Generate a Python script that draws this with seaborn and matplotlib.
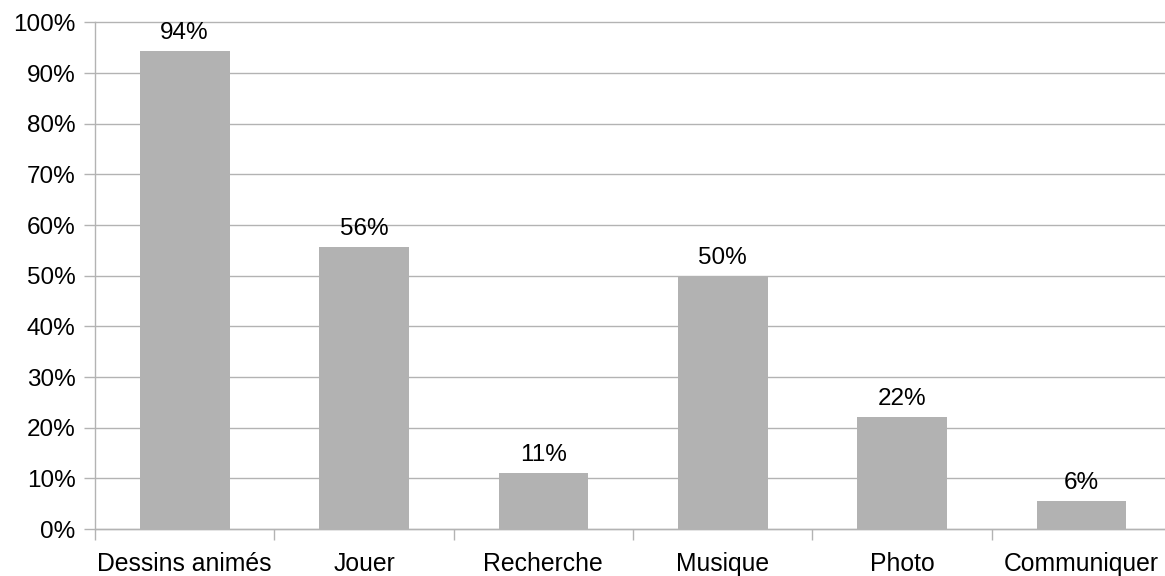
import numpy as np
import pandas as pd
import seaborn as sns
from matplotlib import pyplot as plt
from matplotlib.ticker import FixedLocator

categories = ['Dessins animés', 'Jouer', 'Recherche', 'Musique', 'Photo', 'Communiquer']
values = [94.4, 55.6, 11.1, 50.0, 22.2, 5.6]
labels = ['94%', '56%', '11%', '50%', '22%', '6%']
yticks = list(range(0, 101, 10))

df = pd.DataFrame({'cat': categories, 'val': values})

sns.set_style('white')
plt.rcParams['font.family'] = ['Liberation Sans', 'DejaVu Sans']
plt.rcParams['text.color'] = 'black'
plt.rcParams['xtick.color'] = 'black'
plt.rcParams['ytick.color'] = 'black'

fig = plt.figure(figsize=(11.65, 5.76), dpi=100)
ax = fig.add_axes([95 / 1165, 47 / 576, 1076 / 1165, 506.5 / 576])

sns.barplot(data=df, x='cat', y='val', color='#b2b2b2', saturation=1,
            width=0.5, linewidth=0, ax=ax, zorder=3)

ax.set_xlim(-0.5, 5.5)
ax.set_ylim(0, 100)
ax.set_yticks(yticks)
ax.set_yticklabels([f'{t}%' for t in yticks])
ax.yaxis.grid(True, color='#b3b3b3', linewidth=1)
ax.set_axisbelow(True)

ax.set_xlabel('')
ax.set_ylabel('')

grey = '#b3b3b3'
for s in ['top', 'right']:
    ax.spines[s].set_visible(False)
for s in ['left', 'bottom']:
    ax.spines[s].set_color(grey)
    ax.spines[s].set_linewidth(1)

ax.xaxis.set_minor_locator(FixedLocator(np.arange(-0.5, 6, 1)))
ax.tick_params(axis='x', which='major', length=0, pad=16.5, labelsize=17.8)
ax.tick_params(axis='x', which='minor', length=8, color=grey, width=1, bottom=True)
ax.tick_params(axis='y', length=8, color=grey, width=1, left=True, pad=6, labelsize=17.5)
for line in ax.get_ygridlines():
    line.set_clip_on(False)

ax.bar_label(ax.containers[0], labels=labels, padding=5, fontsize=17.5)

fig.savefig('out.png', dpi=100)
